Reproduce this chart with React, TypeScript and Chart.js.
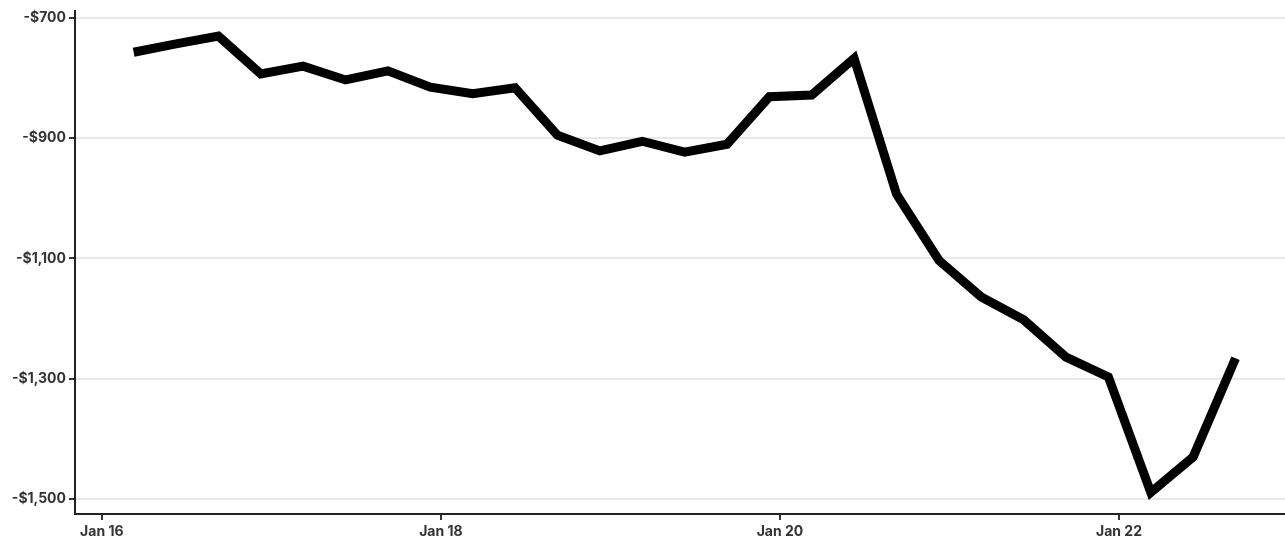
import React, { useEffect, useRef } from "react";
import { Chart, registerables } from "chart.js";

Chart.register(...registerables);

// Hours since Jan 16 00:00
const hours = [4.5, 10.5, 16.5, 22.5, 28.5, 34.5, 40.5, 46.5, 52.5, 58.5, 64.5, 70.5, 76.5, 82.5, 88.5, 94.5, 100.5, 106.5, 112.5, 118.5, 124.5, 130.5, 136.5, 142.5, 148.5, 154.5, 160.5];
const values = [-757, -743, -730, -793, -780, -803, -788, -815, -826, -816, -895, -921, -905, -923, -910, -831, -828, -767, -993, -1103, -1164, -1202, -1264, -1297, -1489, -1430, -1266];

const xTickHours = [0, 48, 96, 144];
const xTickLabels = ["Jan 16", "Jan 18", "Jan 20", "Jan 22"];
const yTicks = [-1500, -1300, -1100, -900, -700];

const fmtMoney = (v: number) => (v < 0 ? "-" : "") + "$" + Math.abs(v).toLocaleString("en-US");

export default function App() {
  const ref = useRef<HTMLCanvasElement | null>(null);
  useEffect(() => {
    if (!ref.current) return;
    const font = { family: "Inter, 'Liberation Sans', sans-serif", size: 14, weight: 700 as any };
    const chart = new Chart(ref.current, {
      type: "line",
      data: {
        datasets: [
          {
            data: hours.map((h, i) => ({ x: h, y: values[i] })),
            borderColor: "#000",
            borderWidth: 9,
            borderJoinStyle: "miter",
            borderCapStyle: "butt",
            pointRadius: 0,
            tension: 0,
            fill: false,
          },
        ],
      },
      options: {
        animation: false,
        responsive: true,
        maintainAspectRatio: false,
        layout: { padding: { top: 0, right: 0, left: 0, bottom: 0 } },
        plugins: { legend: { display: false }, tooltip: { enabled: false }, title: { display: false } },
        scales: {
          x: {
            type: "linear",
            min: -3.8,
            max: 167.5,
            afterBuildTicks: (s: any) => {
              s.ticks = xTickHours.map((v) => ({ value: v }));
            },
            afterFit: (s: any) => {
              s.height = 26;
            },
            ticks: {
              autoSkip: false,
              maxRotation: 0,
              color: "#333",
              font,
              padding: 3,
              callback: (v: any) => {
                const i = xTickHours.indexOf(Number(v));
                return i >= 0 ? xTickLabels[i] : "";
              },
            },
            grid: { display: true, drawOnChartArea: false, drawTicks: true, tickLength: 6, tickColor: "#333", lineWidth: 2 },
            border: { display: true, color: "#222", width: 2 },
          },
          y: {
            type: "linear",
            min: -1525,
            max: -689,
            afterBuildTicks: (s: any) => {
              s.ticks = yTicks.map((v) => ({ value: v }));
            },
            afterFit: (s: any) => {
              s.width = 75;
            },
            ticks: {
              color: "#333",
              font,
              padding: 3,
              callback: (v: any) => fmtMoney(Number(v)),
            },
            grid: { color: "#e8e8e8", lineWidth: 2, drawTicks: true, tickLength: 6, tickColor: "#333" },
            border: { display: true, color: "#222", width: 2 },
          },
        },
      },
    });
    return () => chart.destroy();
  }, []);
  return (
    <div style={{ position: "absolute", left: 0, top: 0, width: 1285, height: 540, background: "#fff" }}>
      <canvas ref={ref} />
    </div>
  );
}
